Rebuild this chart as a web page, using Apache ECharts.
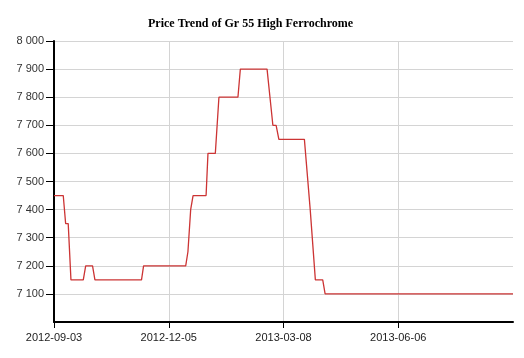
<!DOCTYPE html>
<html>
<head>
<meta charset="utf-8">
<script src="https://cdn.jsdelivr.net/npm/echarts@6/dist/echarts.min.js"></script>
<style>
html,body{margin:0;padding:0;background:#fff;}
#chart{width:524px;height:358px;}
</style>
</head>
<body>
<div id="chart"></div>
<script>
// trading-day position counted from 2012-09-03
var dayIndex = [0, 5.4, 6.8, 8.3, 9.9, 17.1, 18.5, 22.5, 23.9, 51.1, 52.3, 76.9, 78.2, 79.2, 79.8, 81.2, 88.8, 89.9, 94.2, 96.3, 107.4, 108.8, 124.4, 127.8, 129.7, 131.3, 146.2, 149.6, 152.6, 156.9, 158.3, 268];
var price    = [7450, 7450, 7350, 7350, 7150, 7150, 7200, 7200, 7150, 7150, 7200, 7200, 7250, 7250, 7400, 7450, 7450, 7600, 7600, 7800, 7800, 7900, 7900, 7700, 7700, 7650, 7650, 7400, 7150, 7150, 7100, 7100];
var tickLabels = ['2012-09-03', '2012-12-05', '2013-03-08', '2013-06-06'];
var tickIndex = [0, 67, 134, 201];
var titleText = 'Price Trend of Gr 55 High Ferrochrome';

var seriesData = dayIndex.map(function (d, i) { return [d, price[i]]; });

var chart = echarts.init(document.getElementById('chart'));
chart.setOption({
  animation: false,
  title: {
    text: titleText,
    left: 143,
    top: 13,
    textStyle: { fontFamily: 'Liberation Serif', fontWeight: 'bold', fontSize: 12, color: '#000' }
  },
  grid: { left: 54, right: 11, top: 41, bottom: 36 },
  xAxis: {
    type: 'value',
    min: 0,
    max: 268,
    interval: 67,
    axisLine: { lineStyle: { color: '#000', width: 2 } },
    axisTick: { show: true, length: 6, lineStyle: { color: '#000', width: 1 }, customValues: tickIndex },
    axisLabel: {
      customValues: tickIndex,
      fontFamily: 'Liberation Sans', fontSize: 11, color: '#222', margin: 10,
      formatter: function (v) {
        var k = tickIndex.indexOf(Math.round(v));
        return k >= 0 ? tickLabels[k] : '';
      }
    },
    splitLine: { show: true, lineStyle: { color: '#d4d4d4', width: 1 } }
  },
  yAxis: {
    type: 'value',
    min: 7000,
    max: 8000,
    interval: 100,
    axisLine: { show: true, lineStyle: { color: '#000', width: 2 } },
    axisTick: { show: true, length: 8, lineStyle: { color: '#000', width: 1 } },
    axisLabel: {
      showMinLabel: false,
      fontFamily: 'Liberation Sans', fontSize: 11, color: '#333', margin: 10,
      formatter: function (v) {
        if (v === 7000) return '';
        var s = String(v);
        return s.slice(0, s.length - 3) + ' ' + s.slice(-3);
      }
    },
    splitLine: { show: true, lineStyle: { color: '#d4d4d4', width: 1 } }
  },
  series: [{
    type: 'line',
    data: seriesData,
    showSymbol: false,
    symbol: 'none',
    lineStyle: { color: '#cc3434', width: 1.3 }
  }]
});
</script>
</body>
</html>
